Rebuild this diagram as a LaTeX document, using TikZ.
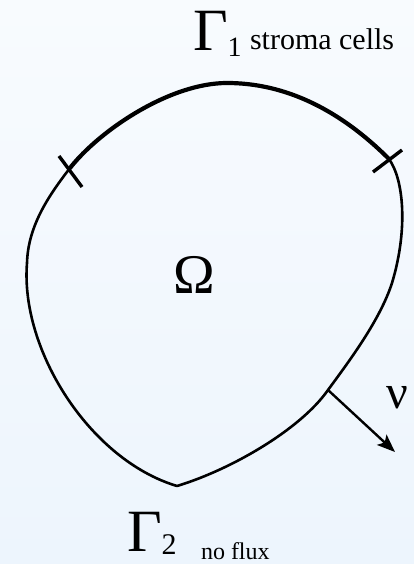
\documentclass[tikz,border=0pt]{standalone}
\usepackage{fontspec}
\setmainfont{Liberation Serif}
\usetikzlibrary{arrows.meta}
\tikzset{
  thinline/.style={line width=2.6pt, line join=round},
  thickline/.style={line width=4.2pt, line cap=round},
  tickmark/.style={line width=3.4pt},
  normalarrow/.style={line width=2.4pt, -{Stealth[length=18pt,width=14pt,inset=4pt]}},
  lbl/.style={anchor=base west, inner sep=0pt, outer sep=0pt, text depth=0pt},
}
\begin{document}
\begin{tikzpicture}[x=1pt,y=-1pt]
\shade[top color={rgb,255:red,248;green,251;blue,254}, bottom color={rgb,255:red,237;green,245;blue,253}]
  (0,0) rectangle (414,564);
\useasboundingbox (0,0) rectangle (414,564);
% named points on the boundary
\coordinate (A) at (70,168);   % left tick
\coordinate (T) at (227,83);   % top
\coordinate (B) at (389,159);  % right tick
\coordinate (R) at (392,283);
\coordinate (N) at (328,390);  % foot of normal
\coordinate (S) at (177,486);  % bottom
\coordinate (L2) at (27,263);  % leftmost
% Gamma_1 boundary (thick)
\draw[thickline] (A) .. controls (100,130) and (170,83) .. (T)
                     .. controls (300,83) and (355,125) .. (B);
% rest of boundary
\draw[thinline] (B) .. controls (404,180) and (408,230) .. (R)
                    .. controls (380,320) and (350,360) .. (N)
                    .. controls (300,430) and (230,470) .. (S)
                    .. controls (90,460) and (20,350) .. (L2)
                    .. controls (28,225) and (50,194) .. (A);
% ticks
\coordinate (lt1) at (59,156); \coordinate (lt2) at (82,187);
\coordinate (rt1) at (373,172); \coordinate (rt2) at (402,150);
\draw[tickmark] (lt1) -- (lt2);
\draw[tickmark] (rt1) -- (rt2);
% normal vector
\coordinate (nu1) at (395,452);
\draw[normalarrow] (N) -- (nu1);
% labels
\node[lbl, font=\fontsize{60}{60}\selectfont] (g1) at (193,51) {Γ\fontsize{28}{28}\selectfont\raisebox{-6pt}{1}};
\node[lbl, font=\fontsize{30}{30}\selectfont] (stroma) at (250,50) {stroma cells};
\node[lbl, font=\fontsize{56}{56}\selectfont] (omega) at (173,293) {Ω};
\node[lbl, font=\fontsize{48}{48}\selectfont] (nu) at (386,408) {ν};
\node[lbl, font=\fontsize{60}{60}\selectfont] (g2) at (127,551) {Γ\fontsize{30}{30}\selectfont\raisebox{-3pt}{2}};
\node[lbl, font=\fontsize{24}{24}\selectfont] (noflux) at (201,559) {no flux};
\end{tikzpicture}
\end{document}
